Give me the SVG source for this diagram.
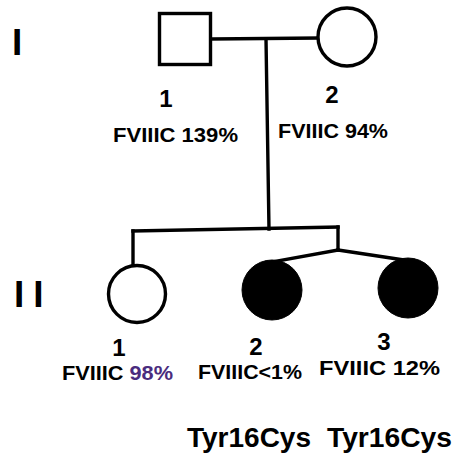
<svg xmlns="http://www.w3.org/2000/svg" width="460" height="455" viewBox="0 0 460 455">
  <style>
    .ln { stroke: #000; stroke-width: 3.4; fill: none; stroke-linecap: square; }
    .open { fill: #fff; stroke: #000; stroke-width: 3.4; }
    .aff { fill: #000; stroke: #000; stroke-width: 1; }
    .gen { font-family: "Liberation Sans", Arial, sans-serif; font-size: 37px; font-weight: bold; fill: #000; }
    .num { font-family: "Liberation Sans", Arial, sans-serif; font-size: 24px; font-weight: bold; fill: #000; text-anchor: middle; }
    .lab { font-family: "Liberation Sans", Arial, sans-serif; font-size: 21px; font-weight: bold; fill: #000; }
    .mut { font-family: "Liberation Sans", Arial, sans-serif; font-size: 27px; font-weight: bold; fill: #000; }
    .hl { fill: #4a2c7e; }
  </style>
  <rect width="460" height="455" fill="#fff"/>

  <!-- generation labels -->
  <text class="gen" x="12" y="55">I</text>
  <text class="gen" x="14" y="307" letter-spacing="9">II</text>

  <!-- connectors -->
  <g id="connectors">
    <line class="ln" x1="211" y1="39" x2="318" y2="38"/>
    <line class="ln" x1="266" y1="39" x2="269" y2="229"/>
    <line class="ln" x1="133" y1="231" x2="338" y2="227"/>
    <line class="ln" x1="133" y1="231" x2="133" y2="265"/>
    <line class="ln" x1="338" y1="227" x2="338" y2="250"/>
    <line class="ln" x1="338" y1="250" x2="266" y2="263"/>
    <line class="ln" x1="338" y1="250" x2="404" y2="260"/>
  </g>

  <!-- generation I -->
  <g id="I-1">
    <rect class="open" x="159.5" y="13.5" width="51" height="51"/>
    <text class="num" x="166" y="107">1</text>
    <text class="lab" x="113" y="142" textLength="125" lengthAdjust="spacingAndGlyphs">FVIIIC 139%</text>
  </g>
  <g id="I-2">
    <circle class="open" cx="347" cy="37" r="29"/>
    <text class="num" x="332" y="103">2</text>
    <text class="lab" x="278" y="138" textLength="110" lengthAdjust="spacingAndGlyphs">FVIIIC 94%</text>
  </g>

  <!-- generation II -->
  <g id="II-1">
    <circle class="open" cx="137" cy="294" r="28.5"/>
    <text class="num" x="119" y="356">1</text>
    <text class="lab" x="62" y="380" textLength="111" lengthAdjust="spacingAndGlyphs">FVIIIC <tspan class="hl">98%</tspan></text>
  </g>
  <g id="II-2">
    <circle class="aff" cx="272" cy="290" r="30"/>
    <text class="num" x="256" y="355">2</text>
    <text class="lab" x="198" y="379" textLength="104" lengthAdjust="spacingAndGlyphs">FVIIIC&lt;1%</text>
    <text class="mut" x="187" y="447" textLength="124" lengthAdjust="spacingAndGlyphs">Tyr16Cys</text>
  </g>
  <g id="II-3">
    <circle class="aff" cx="408" cy="288" r="30"/>
    <text class="num" x="384" y="350">3</text>
    <text class="lab" x="319" y="375" textLength="121" lengthAdjust="spacingAndGlyphs">FVIIIC 12%</text>
    <text class="mut" x="327" y="447" textLength="125" lengthAdjust="spacingAndGlyphs">Tyr16Cys</text>
  </g>
</svg>
